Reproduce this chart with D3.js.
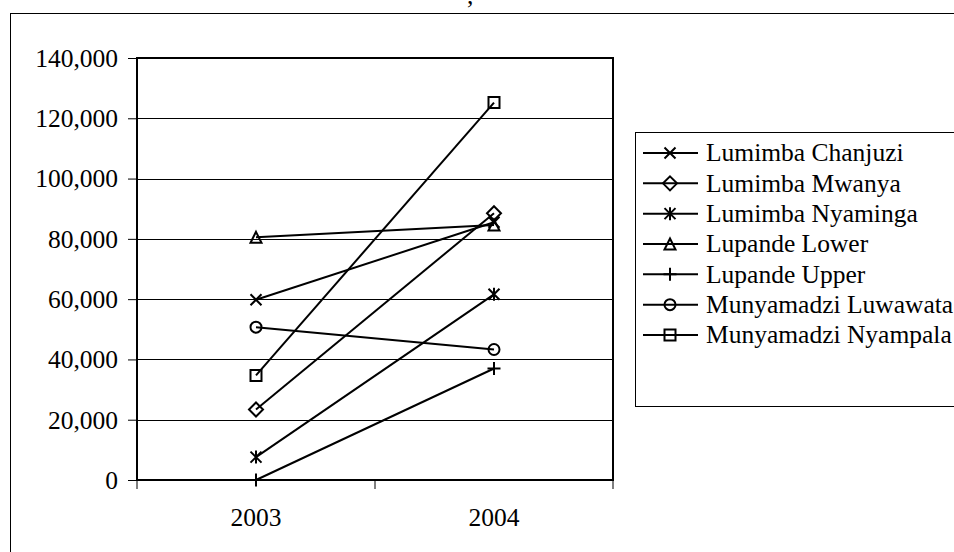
<!DOCTYPE html>
<html>
<head>
<meta charset="utf-8">
<script src="https://cdn.jsdelivr.net/npm/d3@7"></script>
<style>
  html, body { margin: 0; padding: 0; background: #fff; }
  svg { display: block; }
</style>
</head>
<body>
<svg id="chart" width="954" height="552"></svg>
<script>
// Years on the category axis
const years = ["2003", "2004"];

// Series names (legend order)
const seriesNames = [
  "Lumimba Chanjuzi",
  "Lumimba Mwanya",
  "Lumimba Nyaminga",
  "Lupande Lower",
  "Lupande Upper",
  "Munyamadzi Luwawata",
  "Munyamadzi Nyampala"
];

// Values per series, for 2003 and 2004
const chanjuzi  = [59800, 85500];
const mwanya    = [23400, 88500];
const nyaminga  = [7600, 61600];
const lower     = [80500, 84600];
const upper     = [0, 37000];
const luwawata  = [50700, 43300];
const nyampala  = [34700, 125200];

// Marker shape for each series
const markerKinds = ["times", "diamond", "asterisk", "triangle", "plus", "circle", "square"];

// Y axis ticks
const yTicks = [0, 20000, 40000, 60000, 80000, 100000, 120000, 140000];

const seriesValues = [chanjuzi, mwanya, nyaminga, lower, upper, luwawata, nyampala];

const FONT = "Liberation Serif";
const FONT_SIZE = "25.5px";

const svg = d3.select("#chart");

const plot = { left: 137, right: 613, top: 58, bottom: 480 };

const x = d3.scaleBand().domain(years).range([plot.left, plot.right]).padding(0);
const y = d3.scaleLinear().domain([0, 140000]).range([plot.bottom, plot.top]);
const cx = d => x(d) + x.bandwidth() / 2;

// Custom stroked marker shapes usable with d3.symbol
const shapes = {
  times: { draw(c) { const r = 5.5; c.moveTo(-r, -r); c.lineTo(r, r); c.moveTo(-r, r); c.lineTo(r, -r); } },
  asterisk: { draw(c) { const r = 5.5; c.moveTo(-r, -r); c.lineTo(r, r); c.moveTo(-r, r); c.lineTo(r, -r); c.moveTo(0, -r - 1); c.lineTo(0, r + 1); } },
  plus: { draw(c) { const r = 6.5; c.moveTo(-r, 0); c.lineTo(r, 0); c.moveTo(0, -r); c.lineTo(0, r); } },
  diamond: { draw(c) { const r = 7; c.moveTo(0, -r); c.lineTo(r, 0); c.lineTo(0, r); c.lineTo(-r, 0); c.closePath(); } },
  triangle: { draw(c) { const r = 5.5; c.moveTo(0, -r); c.lineTo(r, r); c.lineTo(-r, r); c.closePath(); } },
  square: { draw(c) { const r = 5.5; c.moveTo(-r, -r); c.lineTo(r, -r); c.lineTo(r, r); c.lineTo(-r, r); c.closePath(); } },
  circle: { draw(c) { const r = 5.5; c.moveTo(r, 0); c.arc(0, 0, r, 0, 2 * Math.PI); } }
};
const symbolPath = kind => d3.symbol().type(shapes[kind])();

// Outer chart frame (extends past the right and bottom edges)
svg.append("rect")
  .attr("x", 10.5).attr("y", 13.5)
  .attr("width", 960).attr("height", 560)
  .attr("fill", "none").attr("stroke", "#000").attr("stroke-width", 1);

// Fragment of the heading above the frame
svg.append("text")
  .attr("x", 467).attr("y", 4)
  .style("font-family", FONT)
  .style("font-size", FONT_SIZE)
  .attr("fill", "#000")
  .text(",");

// Horizontal gridlines
svg.append("g")
  .selectAll("line")
  .data(yTicks.filter(t => t > 0 && t < 140000))
  .join("line")
  .attr("x1", plot.left).attr("x2", plot.right)
  .attr("y1", d => Math.round(y(d)) + 0.5).attr("y2", d => Math.round(y(d)) + 0.5)
  .attr("stroke", "#000").attr("stroke-width", 1);

// Y axis with outside ticks and labels
const yAxis = d3.axisLeft(y)
  .tickValues(yTicks)
  .tickSize(9)
  .tickPadding(10)
  .tickFormat(d3.format(","));
const yg = svg.append("g")
  .attr("transform", `translate(${plot.left},0)`)
  .call(yAxis);
yg.select(".domain").remove();
yg.selectAll(".tick line").attr("stroke", "#000").attr("stroke-width", 1);
yg.selectAll(".tick text")
  .style("font-family", FONT)
  .style("font-size", FONT_SIZE)
  .attr("fill", "#000")
  .attr("dy", "0.33em");

// X axis: ticks at category boundaries, labels centred in each category
const boundaries = [plot.left, plot.left + x.bandwidth(), plot.right];
svg.append("g")
  .selectAll("line")
  .data(boundaries)
  .join("line")
  .attr("x1", d => d).attr("x2", d => d)
  .attr("y1", plot.bottom).attr("y2", plot.bottom + 9)
  .attr("stroke", "#000").attr("stroke-width", 1);

svg.append("g")
  .selectAll("text")
  .data(years)
  .join("text")
  .attr("x", d => cx(d))
  .attr("y", 526)
  .attr("text-anchor", "middle")
  .style("font-family", FONT)
  .style("font-size", FONT_SIZE)
  .attr("fill", "#000")
  .text(d => d);

// Plot area border
svg.append("rect")
  .attr("x", plot.left).attr("y", plot.top)
  .attr("width", plot.right - plot.left).attr("height", plot.bottom - plot.top)
  .attr("fill", "none").attr("stroke", "#000").attr("stroke-width", 2);

// Series lines and markers
const line = d3.line().x((d, i) => cx(years[i])).y(d => y(d));
const series = svg.append("g")
  .selectAll("g")
  .data(seriesValues.map((v, i) => ({ name: seriesNames[i], values: v, kind: markerKinds[i] })))
  .join("g");

series.append("path")
  .attr("d", d => line(d.values))
  .attr("fill", "none").attr("stroke", "#000").attr("stroke-width", 2);

series.selectAll(".marker")
  .data(d => d.values.map((v, i) => ({ v, year: years[i], kind: d.kind })))
  .join("path")
  .attr("class", "marker")
  .attr("transform", d => `translate(${cx(d.year)},${y(d.v)})`)
  .attr("d", d => symbolPath(d.kind))
  .attr("fill", "none").attr("stroke", "#000").attr("stroke-width", 2);

// Legend
const legend = svg.append("g");
legend.append("rect")
  .attr("x", 635.5).attr("y", 132.5)
  .attr("width", 330).attr("height", 274)
  .attr("fill", "#fff").attr("stroke", "#000").attr("stroke-width", 1);

const rowY = d3.scalePoint().domain(seriesNames).range([153, 335]);
const items = legend.selectAll("g.item")
  .data(seriesNames.map((n, i) => ({ name: n, kind: markerKinds[i] })))
  .join("g")
  .attr("class", "item")
  .attr("transform", d => `translate(0,${rowY(d.name)})`);

items.append("line")
  .attr("x1", 643).attr("x2", 698).attr("y1", 0).attr("y2", 0)
  .attr("stroke", "#000").attr("stroke-width", 2);
items.append("path")
  .attr("transform", "translate(670,0)")
  .attr("d", d => symbolPath(d.kind))
  .attr("fill", "none").attr("stroke", "#000").attr("stroke-width", 2);
items.append("text")
  .attr("x", 706).attr("y", 0).attr("dy", "0.33em")
  .style("font-family", FONT)
  .style("font-size", FONT_SIZE)
  .attr("fill", "#000")
  .text(d => d.name);
</script>
</body>
</html>
